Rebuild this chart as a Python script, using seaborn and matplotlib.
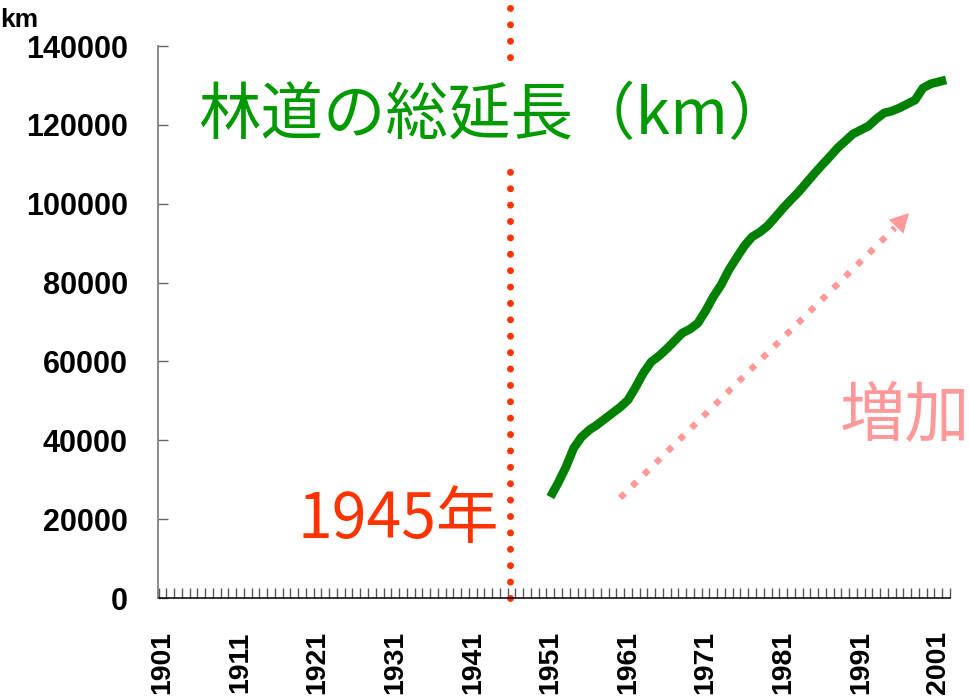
import matplotlib
matplotlib.use("Agg")
import matplotlib.pyplot as plt
import seaborn as sns
import pandas as pd
import numpy as np

# ---- data ----
years = list(range(1951, 2003))
length_km = [25600, 29200, 33200, 38000, 40800, 42600, 43900, 45400, 46900, 48400,
             50200, 53500, 57100, 59900, 61400, 63200, 65200, 67200, 68200, 69700,
             72800, 76400, 79400, 83200, 86300, 89300, 91600, 92800, 94400, 96600,
             98900, 101000, 103000, 105300, 107600, 109800, 111900, 114100, 115900, 117700,
             118700, 119700, 121500, 123000, 123500, 124300, 125300, 126300, 129300, 130400,
             130900, 131400]
tick_years = [1901, 1911, 1921, 1931, 1941, 1951, 1961, 1971, 1981, 1991, 2001]
y_ticks = [0, 20000, 40000, 60000, 80000, 100000, 120000, 140000]
event_year = 1945.8
arrow_start = (1960.0, 25400)
arrow_end = (1997.2, 97600)
title_text = "林道の総延長（km）"
event_text = "1945年"
trend_text = "増加"
unit_text = "km"

df = pd.DataFrame({"year": years, "length": length_km})

sns.set_theme(style="white")
plt.rcParams["font.family"] = ["Liberation Sans", "DejaVu Sans"]

W, H = 970, 699
fig = plt.figure(figsize=(W / 100, H / 100), dpi=100)
ax = fig.add_axes([158.5 / W, 1 - 598 / H, 791.5 / W, 552 / H])

GREEN_LINE = "#008000"
GREEN_TXT = "#009900"
RED = "#FF3300"
PINK = "#FF9999"

sns.lineplot(data=df, x="year", y="length", ax=ax, color=GREEN_LINE, lw=6.3,
             solid_capstyle="butt", zorder=4)

ax.set_xlim(1900.5, 2002.5)
ax.set_ylim(0, 140000)
ax.set_xlabel("")
ax.set_ylabel("")

for s in ["top", "right"]:
    ax.spines[s].set_visible(False)
ax.spines["left"].set_color("#777777")
ax.spines["bottom"].set_color("#111111")
ax.spines["left"].set_linewidth(1.2)
ax.spines["bottom"].set_linewidth(1.2)

ax.set_yticks(y_ticks)
ax.set_yticklabels([str(v) for v in y_ticks], fontsize=22, fontweight="bold", color="black")
ax.tick_params(axis="y", left=True, direction="in", length=7, color="#666666", width=1, pad=22)

ax.set_xticks(tick_years)
ax.set_xticklabels([str(v) for v in tick_years], fontsize=20.5, fontweight="bold",
                   rotation=90, color="black")
ax.set_xticks(np.arange(1900.5, 2003.0, 1.0), minor=True)
ax.tick_params(axis="x", which="major", bottom=True, length=0, pad=24)
ax.tick_params(axis="x", which="minor", bottom=True, direction="in", length=7,
               color="#555555", width=1)

# vertical dotted line at 1945
ax.plot([event_year, event_year], [0, 152500], color=RED, lw=5,
        linestyle=(0, (0.01, 2.35)), dash_capstyle="round", clip_on=False, zorder=2)

# dotted trend arrow
ax.plot([arrow_start[0], arrow_end[0] - 1.8], [arrow_start[1], arrow_end[1] - 3700],
        color=PINK, lw=4.6, linestyle=(0, (1, 1.6)), dash_capstyle="butt", zorder=3)
ax.annotate("", xy=arrow_end, xytext=(arrow_end[0] - 2.6, arrow_end[1] - 5400),
            arrowprops=dict(arrowstyle="-|>,head_length=1.1,head_width=0.6",
                            color=PINK, lw=0.1, shrinkA=0, shrinkB=0), zorder=3)

jp = ["Noto Sans CJK JP", "DejaVu Sans"]
ax.text(494 / W, 1 - 116 / H, title_text, transform=fig.transFigure, ha="center",
        va="center", fontsize=45, color=GREEN_TXT, family=jp, zorder=5,
        bbox=dict(boxstyle="square,pad=0.22", fc="white", ec="none"))
ax.text(499 / W, 1 - 520 / H, event_text, transform=fig.transFigure, ha="right",
        va="center", fontsize=45, color=RED, family=jp, zorder=5,
        bbox=dict(boxstyle="square,pad=0.12", fc="white", ec="none", alpha=0.55))
ax.text(905 / W, 1 - 418 / H, trend_text, transform=fig.transFigure, ha="center",
        va="center", fontsize=47, color=PINK, family=jp, zorder=5)
fig.text(0 / W, 1 - 20 / H, unit_text, ha="left", va="center", fontsize=19,
         fontweight="bold", color="black")

fig.savefig("out.png", dpi=100)
